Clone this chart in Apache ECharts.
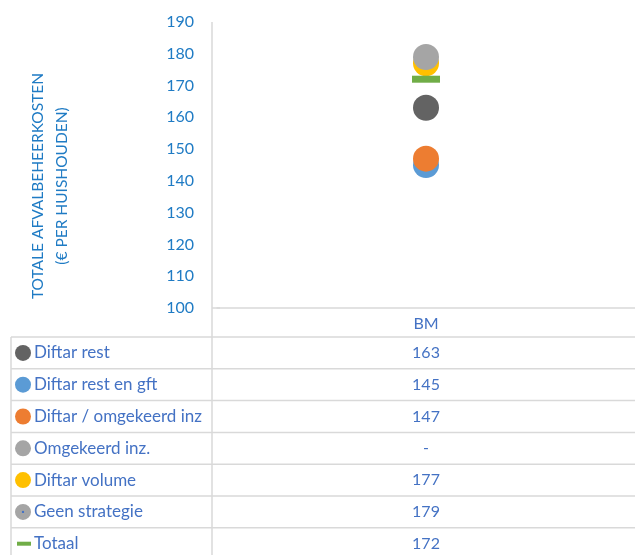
<!DOCTYPE html>
<html>
<head>
<meta charset="utf-8">
<script src="https://cdn.jsdelivr.net/npm/echarts@6/dist/echarts.min.js"></script>
<style>
  html, body { margin: 0; padding: 0; background: #fff; }
  #chart { width: 635px; height: 555px; }
</style>
</head>
<body>
<div id="chart"></div>
<script>
// data
const categories = ["BM"];
const seriesNames = ["Diftar rest", "Diftar rest en gft", "Diftar / omgekeerd inz", "Omgekeerd inz.", "Diftar volume", "Geen strategie", "Totaal"];
const seriesValues = [163, 145, 147, null, 177, 179, 172];
const seriesColors = ["#636363", "#5B9BD5", "#ED7D31", "#A5A5A5", "#FFC000", "#A5A5A5", "#70AD47"];
const yTicks = [100, 110, 120, 130, 140, 150, 160, 170, 180, 190];

const blue = "#1F7BC4";
const tableBlue = "#4472C4";
const lineColor = "#D9D9D9";
const font = "Lato, 'Open Sans', sans-serif";

let chart = echarts.init(document.getElementById("chart"));

// tabel onder de grafiek
const rowTop = 337, rowH = 31.8, divX = 212, leftX = 11;
let graphics = [];
graphics.push({ type: "line", shape: { x1: divX, y1: 22, x2: divX, y2: 555 }, style: { stroke: lineColor, lineWidth: 1.5 }, silent: true });
graphics.push({ type: "line", shape: { x1: divX, y1: 308, x2: 220, y2: 308 }, style: { stroke: lineColor, lineWidth: 1.5 }, silent: true });
graphics.push({ type: "line", shape: { x1: leftX, y1: rowTop, x2: leftX, y2: 555 }, style: { stroke: lineColor, lineWidth: 1.5 }, silent: true });
for (let i = 0; i <= seriesNames.length; i++) {
    let y = rowTop + i * rowH;
    graphics.push({ type: "line", shape: { x1: leftX, y1: y, x2: 635, y2: y }, style: { stroke: lineColor, lineWidth: 1.5 }, silent: true });
}
seriesNames.forEach((name, i) => {
    let cy = rowTop + i * rowH + rowH / 2;
    if (name === "Totaal") {
        graphics.push({ type: "rect", shape: { x: 17, y: cy - 2, width: 14, height: 4 }, style: { fill: seriesColors[i] }, silent: true });
    } else {
        graphics.push({ type: "circle", shape: { cx: 23, cy: cy, r: 8 }, style: { fill: seriesColors[i] }, silent: true });
        if (name === "Geen strategie") {
            graphics.push({ type: "circle", shape: { cx: 23, cy: cy, r: 1.2 }, style: { fill: "#4472C4" }, silent: true });
        }
    }
    graphics.push({
        type: "text", x: 34, y: cy,
        style: { text: name, fill: tableBlue, font: "17px " + font, align: "left", verticalAlign: "middle", textAlign: "left", textVerticalAlign: "middle" },
        silent: true
    });
    let v = seriesValues[i];
    graphics.push({
        type: "text", x: 426, y: cy,
        style: { text: v == null ? "-" : String(v), fill: tableBlue, font: "16px " + font, align: "center", verticalAlign: "middle", textAlign: "center", textVerticalAlign: "middle" },
        silent: true
    });
});
// as-titel
graphics.push({
    type: "text", x: 50, y: 186, rotation: Math.PI / 2,
    style: { text: "TOTALE AFVALBEHEERKOSTEN\n(€ PER HUISHOUDEN)", fill: blue, font: "15.5px " + font, lineHeight: 24, align: "center", verticalAlign: "middle", textAlign: "center", textVerticalAlign: "middle" },
    silent: true
});

const option = {
    animation: false,
    grid: { left: 217, right: 0, top: 22, bottom: 247 },
    xAxis: {
        type: "category",
        data: categories,
        axisLine: { lineStyle: { color: lineColor, width: 1.5 } },
        axisTick: { show: false },
        axisLabel: { color: tableBlue, fontSize: 16, fontFamily: font, margin: 8 }
    },
    yAxis: {
        type: "value",
        min: yTicks[0],
        max: yTicks[yTicks.length - 1],
        interval: 10,
        axisLine: { show: false },
        axisTick: { show: false },
        splitLine: { show: false },
        axisLabel: { color: blue, fontSize: 16, fontFamily: font, margin: 23 }
    },
    graphic: graphics,
    series: seriesNames.map((name, i) => ({
        name: name,
        type: "scatter",
        symbol: name === "Totaal" ? "rect" : "circle",
        symbolSize: name === "Totaal" ? [28, 7] : 26,
        itemStyle: { color: seriesColors[i], opacity: 1 },
        data: [seriesValues[i]]
    }))
};
chart.setOption(option);
</script>
</body>
</html>
